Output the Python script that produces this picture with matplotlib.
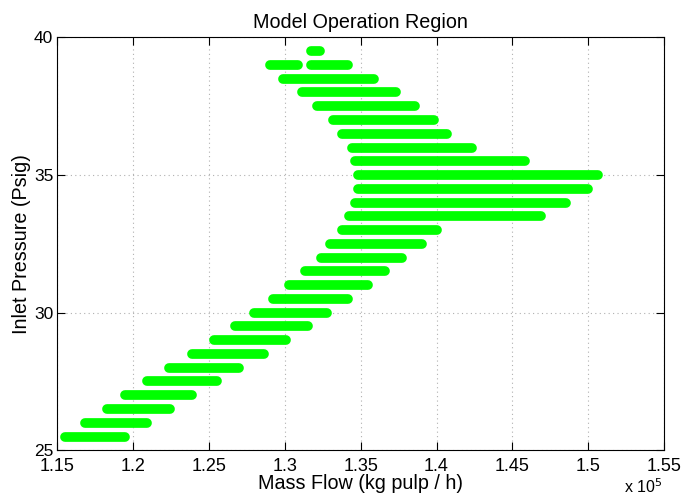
import matplotlib
matplotlib.use("Agg")
import matplotlib.pyplot as plt

# Inlet pressure levels (Psig) of each operating row
pressure = [25.5, 26.0, 26.5, 27.0, 27.5, 28.0, 28.5, 29.0, 29.5, 30.0,
            30.5, 31.0, 31.5, 32.0, 32.5, 33.0, 33.5, 34.0, 34.5, 35.0,
            35.5, 36.0, 36.5, 37.0, 37.5, 38.0, 38.5, 39.0, 39.0, 39.5]
# Lowest and highest mass flow (kg pulp / h) reached on each row
flow_min = [115530, 116790, 118250, 119490, 120920, 122340, 123850, 125300, 126730, 127990,
            129200, 130290, 131310, 132370, 132990, 133750, 134210, 134640, 134800, 134800,
            134630, 134410, 133780, 133160, 132140, 131100, 129850, 129020, 131710, 131740]
flow_max = [119490, 120920, 122400, 123880, 125530, 126950, 128640, 130070, 131520, 132770,
            134180, 135480, 136620, 137740, 139020, 140020, 146890, 148540, 149990, 150630,
            145840, 142330, 140670, 139810, 138590, 137310, 135890, 130840, 134180, 132330]

x_ticks = [115000, 120000, 125000, 130000, 135000, 140000, 145000, 150000, 155000]
x_tick_labels = ["1.15", "1.2", "1.25", "1.3", "1.35", "1.4", "1.45", "1.5", "1.55"]
y_ticks = [25, 30, 35, 40]
y_tick_labels = ["25", "30", "35", "40"]

plt.rcParams['font.family'] = ['Liberation Sans', 'DejaVu Sans']

fig = plt.figure(figsize=(6.81, 4.98), dpi=100)
ax = fig.add_axes([0.0843, 0.0958, 0.8907, 0.829])

for p, a, b in zip(pressure, flow_min, flow_max):
    ax.plot([a, b], [p, p], color="#00FF00", lw=7.0, solid_capstyle="round", zorder=3)

ax.set_xlim(115000, 155000)
ax.set_ylim(25, 40)
ax.set_xticks(x_ticks)
ax.set_xticklabels(x_tick_labels)
ax.set_yticks(y_ticks)
ax.set_yticklabels(y_tick_labels)
ax.tick_params(direction="in", top=True, right=True, length=6, labelsize=13,
               width=0.8, colors="black", pad=2)
ax.tick_params(axis="x", pad=5.5)
ax.tick_params(axis="y", labelsize=12.5, pad=3)
ax.grid(True, linestyle=(0, (1, 3)), color="#b0b0b0", linewidth=0.8, zorder=0)
for s in ax.spines.values():
    s.set_linewidth(0.8)
    s.set_color("black")

ax.set_title("Model Operation Region", fontsize=14.2, pad=7)
ax.set_xlabel("Mass Flow (kg pulp / h)", fontsize=14.2, labelpad=-1)
ax.set_ylabel("Inlet Pressure (Psig)", fontsize=14.2, labelpad=2)
fig.text(0.917, 0.004, r"x 10$^{5}$", fontsize=11.5, ha="left", va="bottom")

fig.savefig("out.png", dpi=100)
